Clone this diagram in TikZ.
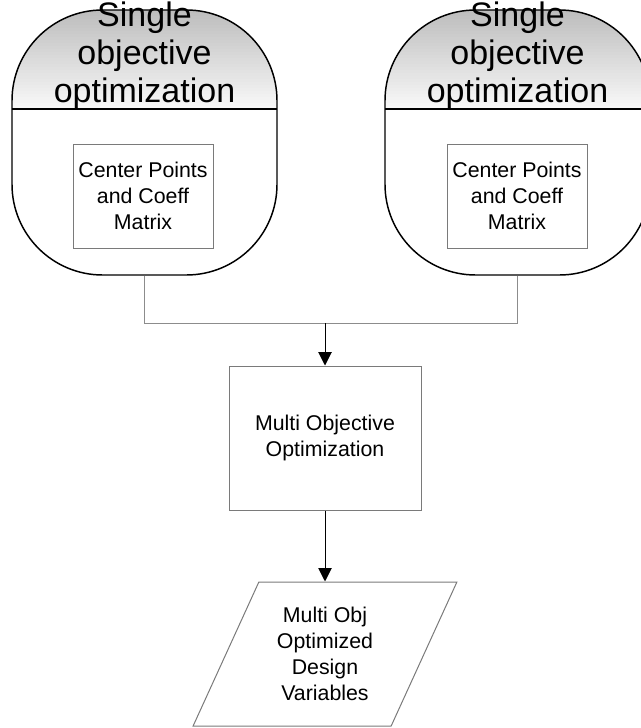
\documentclass[tikz,border=0pt]{standalone}
\usepackage{fontspec}
\setmainfont{Liberation Sans}
\usepackage{tikz}
\usetikzlibrary{arrows.meta, positioning, shapes.geometric}
\definecolor{flowink}{HTML}{000000}
\definecolor{flowgray}{HTML}{8C8C8C}
\definecolor{boxgray}{HTML}{7A7A7A}
\definecolor{headshade}{HTML}{BDBDBD}
\definecolor{headfade}{HTML}{F8F8F8}

\begin{document}
\begin{tikzpicture}[
  x=0.75pt, y=-0.75pt,
  solver/.style={
    draw=flowink,
    line width=1.1pt,
    rounded corners=68pt,
    minimum width=198.75pt,
    minimum height=198.75pt,
    path picture={
      \foreach \k in {0,...,32}{
        \pgfmathsetmacro{\fadepct}{100*\k/32}
        \fill[sharp corners, headfade!\fadepct!headshade]
          ([yshift={-2.25pt*\k}]path picture bounding box.north west) rectangle
          ([yshift={-2.25pt*\k-2.4pt}]path picture bounding box.north east);
      }
      \draw[sharp corners, line width=1.1pt]
        ([yshift=-74.25pt]path picture bounding box.north west) --
        ([yshift=-74.25pt]path picture bounding box.north east);
    }
  },
  headtext/.style={
    font=\fontsize{25.5}{28.5}\selectfont,
    align=center,
    inner sep=0pt
  },
  bodytext/.style={
    font=\fontsize{16}{19.5}\selectfont,
    align=center,
    inner sep=0pt
  },
  pointbox/.style={bodytext, draw=boxgray, line width=0.75pt, minimum width=105pt, minimum height=78pt},
  taskbox/.style={bodytext, draw=boxgray, line width=0.75pt, minimum width=144pt, minimum height=108pt},
  databox/.style={
    bodytext,
    draw=boxgray,
    line width=0.75pt,
    trapezium,
    trapezium left angle=63,
    trapezium right angle=117,
    trapezium stretches=true,
    minimum width=198pt,
    minimum height=108pt
  },
  link/.style={draw=flowgray, line width=0.75pt},
  flow/.style={-{Triangle[length=10pt, width=10pt]}, line width=0.75pt, draw=flowink}
]
\useasboundingbox (0,0) rectangle (640,728);

% single objective stages
\node[solver] (sgleft) at (144.5,142.5) {};
\node[solver] (sgright) at (517.5,142.5) {};
\node[headtext, anchor=north] (titleleft) at ([yshift=6pt]sgleft.north) {Single\\objective\\optimization};
\node[headtext, anchor=north] (titleright) at ([yshift=6pt]sgright.north) {Single\\objective\\optimization};

\node[pointbox] (ctrleft) at (143,196) {Center Points\\and Coeff\\Matrix};
\node[pointbox] (ctrright) at (517,196) {Center Points\\and Coeff\\Matrix};

% multi objective stage
\node[taskbox] (multi) at (325,438) {Multi Objective\\Optimization};
\node[databox] (result) at (325,654) {Multi Obj\\Optimized\\Design\\Variables};

\coordinate (join) at (325,323);
\draw[link] (sgleft.south) -- (sgleft.south |- join) -| (sgright.south);
\draw[flow] (join) -- (multi.north);
\draw[flow] (multi.south) -- (multi.south |- result.north);

\end{tikzpicture}
\end{document}
